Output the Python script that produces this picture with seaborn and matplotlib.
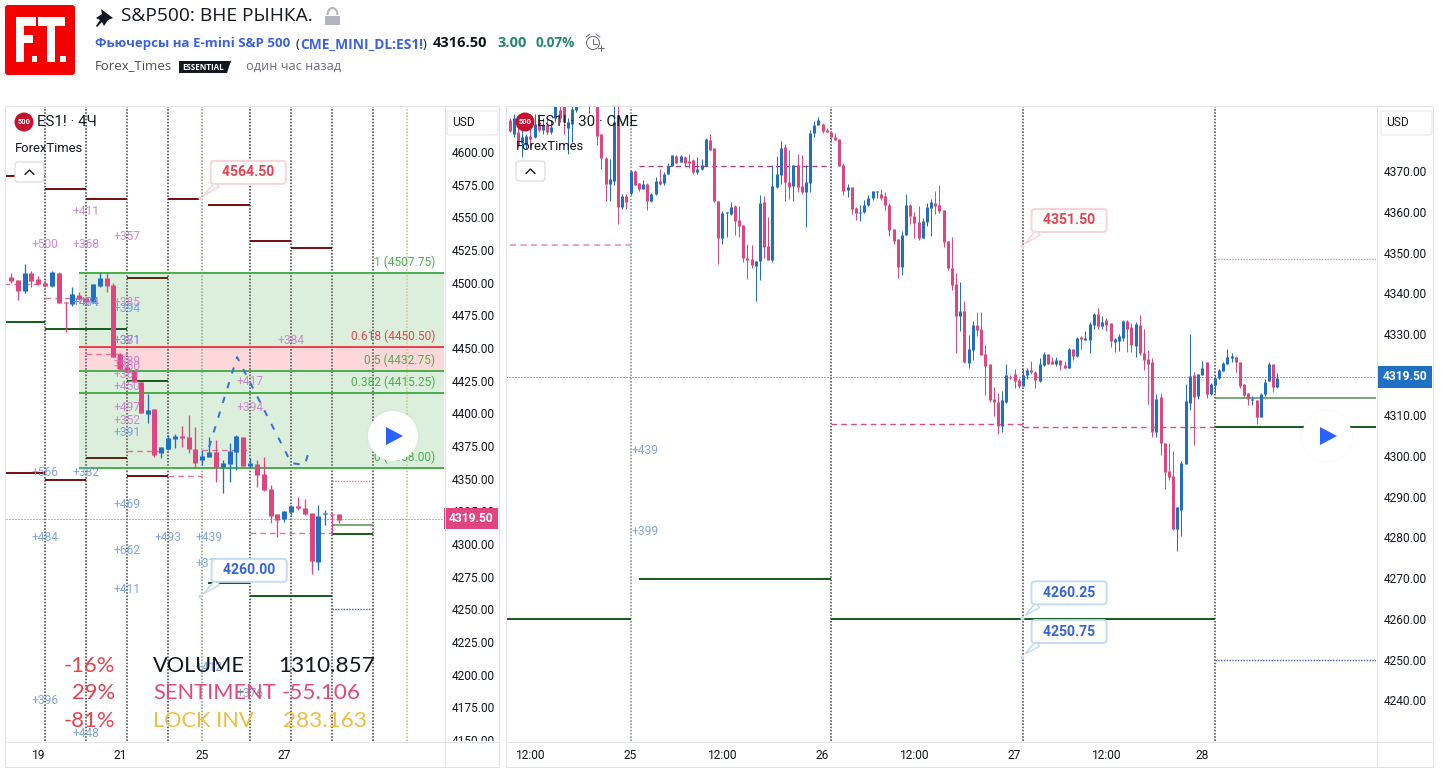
import numpy as np
import pandas as pd
import matplotlib
matplotlib.use("Agg")
import matplotlib.pyplot as plt
import seaborn as sns
from matplotlib.patches import Circle, FancyBboxPatch, Polygon, Rectangle, Arc
from matplotlib.transforms import Bbox

# --- left chart (4H candles): open, high, low, close
l_week1 = [
    (4504.1, 4507.1, 4499.5, 4501.5), (4502.0, 4502.2, 4486.7, 4493.6), (4493.6, 4514.3, 4492.4, 4507.1),
    (4507.1, 4509.2, 4496.4, 4501.5), (4502.8, 4505.1, 4498.2, 4498.7), (4500.0, 4502.0, 4497.0, 4497.7),
    (4497.7, 4509.0, 4497.0, 4507.9), (4507.1, 4508.4, 4484.7, 4484.7), (4485.5, 4485.5, 4462.5, 4484.2),
    (4483.7, 4496.4, 4482.4, 4491.3), (4490.6, 4493.1, 4486.7, 4487.8), (4488.5, 4489.3, 4484.2, 4484.9),
    (4485.5, 4499.0, 4485.0, 4499.0), (4497.7, 4507.1, 4497.0, 4503.3), (4503.3, 4507.7, 4493.1, 4497.5),
    (4498.2, 4499.5, 4443.4, 4443.4), (4445.2, 4446.4, 4433.2, 4433.7), (4435.7, 4437.0, 4431.5, 4431.9),
    (4432.7, 4433.2, 4423.7, 4423.7), (4423.7, 4423.9, 4400.0, 4400.0), (4399.5, 4414.8, 4392.9, 4402.6),
    (4403.3, 4403.5, 4366.8, 4368.1), (4369.9, 4374.5, 4366.1, 4374.0), (4372.7, 4383.4, 4371.9, 4381.4),
    (4380.6, 4384.2, 4373.7, 4382.9), (4382.7, 4390.3, 4374.5, 4381.4), (4381.6, 4398.7, 4369.9, 4372.7),
    (4372.4, 4389.8, 4357.9, 4362.2),
]
l_week2 = [
    (4364.3, 4371.9, 4360.4, 4367.3), (4366.8, 4382.1, 4366.3, 4370.4), (4370.4, 4379.6, 4347.7, 4359.2),
    (4359.2, 4364.3, 4338.8, 4361.7), (4361.2, 4377.0, 4347.7, 4371.1), (4370.6, 4383.4, 4356.6, 4382.6),
    (4381.9, 4382.0, 4359.7, 4359.7), (4359.7, 4365.5, 4357.9, 4361.7), (4361.2, 4364.3, 4343.8, 4352.8),
    (4353.5, 4366.3, 4340.8, 4341.3), (4342.1, 4345.1, 4315.8, 4321.4), (4322.9, 4323.0, 4305.6, 4318.3),
    (4319.1, 4325.5, 4317.1, 4325.0), (4324.5, 4329.8, 4322.2, 4329.1), (4329.1, 4336.2, 4326.0, 4327.8),
    (4327.8, 4334.2, 4322.2, 4322.9), (4323.9, 4324.0, 4277.0, 4287.2), (4286.4, 4329.8, 4280.1, 4321.4),
    (4322.7, 4326.0, 4314.5, 4323.9), (4322.9, 4323.0, 4307.6, 4322.2), (4322.9, 4323.0, 4316.3, 4318.3),
]

# --- right chart (30 min candles), split by session
r_day24 = [
    (4382.5, 4383.0, 4379.7, 4379.8), (4379.0, 4384.0, 4378.5, 4383.0), (4379.7, 4381.0, 4376.0, 4376.4),
    (4377.0, 4380.0, 4373.5, 4378.4), (4376.4, 4379.0, 4375.5, 4378.6), (4378.6, 4381.3, 4375.5, 4378.0),
    (4378.4, 4384.0, 4378.2, 4381.7), (4382.0, 4384.0, 4379.5, 4380.0), (4380.0, 4383.0, 4379.2, 4381.3),
    (4381.3, 4383.0, 4379.2, 4379.6), (4379.5, 4382.5, 4379.2, 4380.9), (4383.0, 4388.0, 4382.0, 4386.0),
    (4385.0, 4387.0, 4382.0, 4383.0), (4386.0, 4388.0, 4379.2, 4382.0), (4380.5, 4383.0, 4374.3, 4382.0),
    (4381.7, 4387.0, 4377.2, 4385.2), (4385.0, 4389.0, 4384.5, 4386.0), (4390.0, 4391.0, 4386.7, 4387.0),
    (4388.0, 4392.0, 4387.0, 4391.0), (4388.0, 4393.0, 4384.2, 4392.0), (4392.0, 4393.0, 4388.0, 4390.0),
    (4389.0, 4391.0, 4376.4, 4378.7), (4379.0, 4379.2, 4370.6, 4373.3), (4373.3, 4373.5, 4362.6, 4366.9),
    (4366.9, 4373.1, 4362.6, 4368.0), (4367.5, 4386.0, 4366.5, 4382.0), (4383.5, 4386.0, 4357.1, 4361.2),
    (4361.2, 4364.5, 4360.8, 4363.9), (4363.9, 4364.5, 4360.8, 4362.4),
]
r_day25 = [
    (4364.6, 4370.2, 4364.1, 4370.0), (4370.0, 4370.2, 4366.5, 4366.7), (4367.1, 4367.2, 4365.1, 4365.6),
    (4365.7, 4367.8, 4365.6, 4366.8), (4366.8, 4367.0, 4360.4, 4362.7), (4362.6, 4364.7, 4362.5, 4364.3),
    (4364.3, 4368.6, 4364.1, 4367.5), (4367.5, 4370.6, 4366.7, 4366.9), (4367.0, 4369.8, 4366.5, 4369.2),
    (4369.2, 4371.9, 4369.2, 4371.3), (4371.3, 4374.0, 4371.2, 4373.9), (4373.7, 4374.0, 4372.0, 4372.1),
    (4372.3, 4373.9, 4372.2, 4373.7), (4373.4, 4373.6, 4370.9, 4372.1), (4372.4, 4374.3, 4370.8, 4372.1),
    (4372.7, 4372.9, 4369.4, 4369.7), (4369.7, 4373.5, 4369.4, 4370.6), (4370.5, 4373.1, 4370.2, 4371.5),
    (4371.3, 4378.2, 4371.2, 4378.0), (4377.6, 4379.2, 4375.2, 4375.3), (4375.7, 4375.8, 4362.4, 4362.6),
    (4362.6, 4362.7, 4347.3, 4353.6), (4353.6, 4360.2, 4352.1, 4359.7), (4359.6, 4360.0, 4353.9, 4359.9),
    (4359.4, 4362.3, 4359.2, 4361.2), (4361.5, 4361.6, 4354.4, 4357.8), (4357.9, 4361.4, 4353.8, 4356.6),
    (4356.7, 4356.8, 4347.7, 4348.7), (4348.7, 4352.0, 4343.4, 4348.1), (4348.4, 4351.8, 4346.3, 4346.9),
    (4346.7, 4348.0, 4338.2, 4347.9), (4347.9, 4364.1, 4343.2, 4362.2), (4362.4, 4363.9, 4348.6, 4351.4),
    (4351.6, 4358.8, 4348.1, 4348.1), (4348.1, 4371.5, 4347.7, 4366.3), (4366.2, 4373.7, 4365.8, 4369.3),
    (4369.0, 4377.4, 4366.8, 4375.7), (4376.0, 4376.6, 4362.7, 4367.4), (4367.3, 4375.2, 4363.1, 4366.2),
    (4366.3, 4371.5, 4362.7, 4371.4), (4371.4, 4374.2, 4364.9, 4366.2), (4366.3, 4373.9, 4364.4, 4364.9),
    (4364.9, 4371.5, 4356.3, 4367.3), (4367.1, 4380.1, 4364.9, 4379.4), (4379.3, 4382.3, 4378.4, 4381.3),
    (4381.3, 4383.2, 4381.3, 4382.5), (4381.7, 4381.8, 4379.4, 4379.9), (4380.1, 4380.5, 4379.6, 4379.7),
]
r_day26 = [
    (4379.6, 4379.7, 4377.2, 4378.4), (4378.3, 4379.3, 4377.6, 4377.6), (4377.9, 4378.0, 4371.3, 4371.3),
    (4371.5, 4372.1, 4364.1, 4365.2), (4365.3, 4366.8, 4363.7, 4366.0), (4366.1, 4366.2, 4359.4, 4360.8),
    (4361.0, 4361.1, 4358.0, 4359.8), (4359.8, 4361.8, 4357.8, 4360.0), (4360.0, 4362.9, 4359.8, 4361.8),
    (4361.7, 4364.1, 4361.4, 4363.5), (4363.5, 4365.2, 4362.9, 4365.1), (4364.8, 4365.2, 4363.5, 4365.0),
    (4364.5, 4365.5, 4363.0, 4363.5), (4363.9, 4364.9, 4360.4, 4361.7), (4361.7, 4362.2, 4354.0, 4355.5),
    (4355.8, 4355.9, 4352.1, 4352.9), (4353.3, 4353.4, 4343.8, 4346.5), (4346.5, 4355.3, 4344.5, 4354.3),
    (4354.3, 4364.4, 4354.3, 4361.8), (4361.7, 4361.9, 4357.0, 4359.0), (4359.0, 4360.0, 4353.6, 4357.3),
    (4357.6, 4361.4, 4353.1, 4353.5), (4353.6, 4358.6, 4353.6, 4357.7), (4357.6, 4362.1, 4356.5, 4361.1),
    (4361.0, 4363.1, 4354.0, 4362.4), (4362.2, 4365.1, 4359.4, 4361.5), (4361.7, 4366.6, 4359.8, 4360.2),
    (4360.4, 4360.5, 4351.4, 4352.6), (4352.8, 4352.9, 4345.7, 4346.3), (4346.3, 4353.7, 4340.8, 4342.0),
    (4342.2, 4344.9, 4325.2, 4334.4), (4334.4, 4342.7, 4330.8, 4335.6), (4335.6, 4338.1, 4322.8, 4323.2),
    (4322.9, 4329.7, 4321.7, 4326.3), (4326.0, 4333.2, 4323.7, 4332.2), (4332.2, 4335.5, 4329.5, 4331.0),
    (4331.2, 4335.5, 4324.8, 4324.8), (4325.0, 4327.3, 4315.0, 4322.2), (4322.6, 4322.6, 4313.3, 4313.7),
    (4314.0, 4316.9, 4309.8, 4313.2), (4313.3, 4315.4, 4305.4, 4307.4), (4307.4, 4316.0, 4306.0, 4313.7),
    (4313.3, 4322.6, 4313.1, 4319.9), (4319.5, 4319.8, 4319.0, 4319.2), (4320.1, 4321.3, 4316.6, 4318.4),
    (4318.6, 4319.3, 4316.6, 4317.2), (4317.3, 4321.3, 4317.2, 4319.9), (4319.8, 4321.7, 4318.9, 4321.1),
]
r_day27 = [
    (4321.1, 4323.3, 4320.1, 4320.6), (4320.7, 4321.0, 4316.8, 4318.6), (4318.5, 4324.0, 4318.2, 4322.7),
    (4322.3, 4325.6, 4322.2, 4325.0), (4325.0, 4325.1, 4322.6, 4322.7), (4323.3, 4324.4, 4322.6, 4322.7),
    (4322.7, 4324.4, 4322.2, 4323.6), (4323.6, 4323.7, 4321.1, 4322.3), (4322.3, 4323.3, 4321.6, 4321.6),
    (4321.6, 4326.6, 4321.6, 4326.3), (4326.2, 4326.3, 4323.6, 4324.5), (4324.5, 4329.3, 4324.4, 4329.0),
    (4329.2, 4329.5, 4326.4, 4328.8), (4328.5, 4330.7, 4328.5, 4328.9), (4328.5, 4333.0, 4325.4, 4332.5),
    (4332.2, 4335.2, 4331.3, 4334.9), (4334.9, 4336.3, 4331.3, 4331.9), (4331.9, 4334.4, 4331.3, 4333.0),
    (4333.4, 4333.8, 4330.8, 4332.2), (4332.7, 4332.8, 4326.7, 4328.3), (4328.1, 4329.0, 4325.6, 4328.8),
    (4328.3, 4329.9, 4325.9, 4329.5), (4329.0, 4333.4, 4328.3, 4333.2), (4333.2, 4333.4, 4325.6, 4331.2),
    (4331.6, 4332.6, 4325.6, 4327.2), (4327.1, 4333.0, 4324.4, 4332.4), (4332.2, 4334.6, 4324.8, 4325.2),
    (4325.4, 4331.3, 4321.1, 4323.6), (4323.8, 4326.0, 4312.9, 4322.7), (4323.1, 4324.2, 4304.6, 4305.8),
    (4305.8, 4315.2, 4304.6, 4314.1), (4314.5, 4315.6, 4300.2, 4303.1), (4303.2, 4303.2, 4292.0, 4296.0),
    (4296.3, 4303.2, 4294.1, 4294.9), (4295.1, 4301.2, 4281.8, 4282.0), (4282.0, 4287.5, 4276.7, 4287.4),
    (4286.7, 4298.7, 4280.3, 4298.3), (4298.0, 4317.8, 4298.0, 4313.5), (4313.1, 4330.0, 4311.3, 4319.6),
    (4319.9, 4320.7, 4302.7, 4314.5), (4314.7, 4320.1, 4313.9, 4320.1), (4319.9, 4323.3, 4319.9, 4321.6),
    (4323.1, 4323.2, 4314.3, 4315.2), (4315.2, 4318.0, 4315.1, 4317.8),
]
r_day28 = [
    (4317.4, 4319.9, 4315.4, 4319.3), (4319.1, 4321.5, 4318.9, 4321.1), (4321.0, 4323.2, 4320.9, 4322.9),
    (4322.6, 4326.2, 4322.6, 4324.4), (4324.1, 4325.4, 4323.1, 4324.5), (4324.4, 4324.5, 4320.6, 4323.1),
    (4323.1, 4323.2, 4316.6, 4317.2), (4317.7, 4317.8, 4314.4, 4315.1), (4315.5, 4315.6, 4312.5, 4314.0),
    (4313.8, 4314.8, 4312.5, 4314.1), (4313.7, 4313.8, 4307.8, 4309.6), (4309.6, 4315.4, 4309.5, 4315.2),
    (4315.2, 4319.0, 4314.7, 4318.2), (4318.5, 4323.1, 4318.5, 4322.6), (4322.6, 4322.6, 4315.8, 4317.0),
    (4317.0, 4320.3, 4316.8, 4319.3),
]

# axis ticks
l_price_ticks = list(range(4150, 4625, 25))
r_price_ticks = list(range(4240, 4380, 10))
l_date_bars = [4, 16, 28, 40]
l_date_labels = ["19", "21", "25", "27"]
r_date_bars = [5, 29, 51, 75, 97, 121, 143, 166]
r_date_labels = ["12:00", "25", "12:00", "26", "12:00", "27", "12:00", "28"]
l_session_bars = [5, 11, 17, 23, 35, 41, 47, 53]
l_marker_bars = [28, 58]
r_session_bars = [29, 77, 123, 169]

l_last_price = 4319.5
r_last_price = 4319.5

# fibonacci retracement on the left chart
fib_start_bar = 10
fib_prices = [4507.75, 4450.5, 4432.75, 4415.25, 4358.0]
fib_names = ["1 (4507.75)", "0.618 (4450.50)", "0.5 (4432.75)", "0.382 (4415.25)", "0 (4358.00)"]

# levels: start bar, end bar, price
l_dark_red = [(-1, 5, 4581.6), (5, 11, 4571.7), (11, 17, 4563.8), (23, 27.7, 4563.8), (28.8, 35, 4559.7),
              (35, 41, 4531.9), (41, 47, 4526.5), (-1, 5, 4354.3), (5, 11, 4349.0), (17, 23, 4352.0)]
l_brown = [(17, 23, 4503.8), (11, 17, 4366.0)]
l_dark_green = [(-1, 5, 4469.9), (5, 17, 4464.8), (17, 23, 4425.0), (28.8, 35, 4270.2), (35, 47, 4260.2),
                (47, 53, 4307.7)]
l_light_green = [(47, 53, 4314.6)]
l_dashed_pink = [(-1, 5, 4499.0), (5, 11, 4488.3), (11, 17, 4445.4), (17, 23, 4371.2), (23, 28, 4352.0),
                 (28, 35, 4372.0), (35, 47, 4308.4)]
l_dotted_pink = [(47, 53, 4348.5)]
l_dotted_blue = [(47, 53, 4250.3)]

r_dark_green = [(-1, 29, 4260.0), (31, 77, 4269.75), (77, 169, 4260.0), (169, 208, 4307.25)]
r_mid_green = [(169, 208, 4314.3)]
r_dashed_pale = [(0, 29, 4351.8)]
r_dashed_dark = [(31, 77, 4371.35)]
r_dashed_pink = [(77, 123, 4308.0), (123, 169, 4307.25)]
r_dotted_pink = [(169, 208, 4348.5)]
r_dotted_blue = [(169, 208, 4249.9)]

# projected path on the left chart
path_bars = [29, 33.1, 40.3, 41, 43, 43.6]
path_prices = [4374.2, 4443.1, 4369.6, 4362.0, 4360.5, 4370.4]

# small volume labels on the left chart
note_purple = [("+411", 11, 4554.8), ("+500", 5, 4529.6), ("+368", 11, 4529.6), ("+357", 17, 4535.0),
               ("+474", 11, 4485.2), ("+385", 17, 4485.2), ("+381", 17, 4455.4), ("+389", 17, 4440.0),
               ("+360", 17, 4436.2), ("+361", 17, 4430.1), ("+450", 17, 4420.2), ("+497", 17, 4404.8),
               ("+352", 17, 4394.9), ("+417", 35, 4424.7), ("+394", 35, 4404.8), ("+384", 41, 4455.4)]
note_blue = [("+404", 11, 4485.2), ("+394", 17, 4479.9), ("+371", 17, 4455.4), ("+391", 17, 4385.0),
             ("+566", 5, 4355.1), ("+382", 11, 4355.1), ("+469", 17, 4329.9), ("+484", 5, 4305.4),
             ("+662", 17, 4295.4), ("+493", 23, 4305.4), ("+439", 29, 4305.4), ("+312", 29, 4285.5),
             ("+411", 17, 4265.6), ("+412", 29, 4205.9), ("+376", 35, 4186.0), ("+396", 5, 4180.6),
             ("+448", 11, 4155.4)]
r_note_blue = [("+439", 32.5, 4301.4), ("+399", 32.5, 4281.5)]

# stats in the lower left corner
stat_pct = ["-16%", "29%", "-81%"]
stat_names = ["VOLUME", "SENTIMENT", "LOCK INV"]
stat_values = ["1310.857", "-55.106", "283.163"]

BLUE = "#1f6fc4"
PINK = "#e0457f"
CALL_RED = "#e8424f"
CALL_BLUE = "#3563d9"
W, H = 1441, 775
PT = 0.72  # points per pixel at dpi 100

sns.set_theme(style="white")
plt.rcParams["font.family"] = ["Roboto", "DejaVu Sans"]


def px_axes(fig, x0, y0, x1, y1):
    return fig.add_axes([x0 / W, 1 - y1 / H, (x1 - x0) / W, (y1 - y0) / H])


def draw_candles(ax, candles, body_px, wick_px):
    df = pd.DataFrame(candles, columns=["open", "high", "low", "close"])
    df["bar"] = np.arange(len(df))
    df["side"] = np.where(df["close"] >= df["open"], "up", "down")
    colors = {"up": BLUE, "down": PINK}
    wicks = df.melt(id_vars=["bar", "side"], value_vars=["high", "low"], value_name="price")
    bodies = df.melt(id_vars=["bar", "side"], value_vars=["open", "close"], value_name="price")
    sns.lineplot(data=wicks, x="bar", y="price", hue="side", units="bar", estimator=None, palette=colors,
                 linewidth=wick_px * PT, solid_capstyle="butt", legend=False, ax=ax, zorder=3)
    sns.lineplot(data=bodies, x="bar", y="price", hue="side", units="bar", estimator=None, palette=colors,
                 linewidth=body_px * PT, solid_capstyle="butt", legend=False, ax=ax, zorder=3)


def draw_levels(ax, levels, color, lw_px, style="-"):
    for start, end, price in levels:
        ax.hlines(price, start, end, colors=color, linewidth=lw_px * PT, linestyles=style, zorder=2)


def draw_sessions(ax, bars, color, lw_px=2):
    ax.vlines(bars, 0, 1, transform=ax.get_xaxis_transform(), colors=color, linewidth=lw_px * PT,
              linestyles=(0, (0.8, 0.8)), zorder=1.5)


def draw_notes(ax, notes, color):
    for text, bar, price in notes:
        ax.text(bar, price, text, color=color, fontsize=12 * PT, ha="center", va="center", alpha=0.85, zorder=4)


def callout(ax, text, bar, price, dx, dy, color, edge):
    ax.plot([bar], [price], "o", ms=4 * PT, color=edge, mew=0, zorder=5)
    # no-break spaces widen the box without making it taller
    ax.annotate(f"\u00a0\u00a0{text}\u00a0\u00a0", xy=(bar, price), xytext=(dx, dy), textcoords="offset pixels",
                ha="center", va="center", color=color, fontsize=14 * PT, fontweight="bold", zorder=6,
                bbox=dict(boxstyle="round,pad=0.32,rounding_size=0.25", fc="white", ec=edge, lw=2 * PT),
                arrowprops=dict(arrowstyle="wedge,tail_width=0.45,shrink_factor=0.5", fc="white", ec=edge,
                                lw=1.5 * PT, shrinkA=0, shrinkB=3, relpos=(0.12, 0.0)))


def price_tag(ax, price, color, dx):
    ax.annotate(f"{price:.2f}", xy=(1.0, price), xycoords=ax.get_yaxis_transform(), xytext=(dx, 0),
                textcoords="offset pixels", ha="center", va="center", color="white", fontsize=12 * PT,
                fontweight="bold", zorder=8, annotation_clip=False,
                bbox=dict(boxstyle="square,pad=0.36", fc=color, ec=color, lw=0))


def finish_axes(ax, xlim, ylim, price_ticks, date_bars, date_labels, clip_x):
    ax.set_xlim(*xlim)
    ax.set_ylim(*ylim)
    ax.set_xlabel("")
    ax.set_ylabel("")
    ax.yaxis.tick_right()
    ax.set_yticks(price_ticks, [f"{t:.2f}" for t in price_ticks])
    ax.set_xticks(date_bars, date_labels)
    ax.tick_params(axis="y", length=0, pad=8 * PT, labelsize=12 * PT, labelcolor="#131722")
    ax.tick_params(axis="x", length=0, pad=8 * PT, labelsize=12 * PT, labelcolor="#131722")
    # price labels get cut at the bottom of the chart area
    box = Bbox([[clip_x, H - 741], [clip_x + 60, H - 106]])
    for lab in ax.get_yticklabels():
        lab.set_clip_box(box)
        lab.set_clip_on(True)
    for side in ax.spines.values():
        side.set_visible(False)


fig = plt.figure(figsize=(W / 100, H / 100), dpi=100, facecolor="white")

# ---------- left chart ----------
ax_l = px_axes(fig, 6, 106, 444, 741)
l_xlim = (-0.73, 63.4)
l_ylim = (4149.3, 4635.2)

# fib zones
ax_l.fill_between([fib_start_bar, l_xlim[1]], fib_prices[4], fib_prices[0], color="#dcefdc", lw=0, zorder=1)
ax_l.fill_between([fib_start_bar, l_xlim[1]], fib_prices[2], fib_prices[1], color="#fdd7da", lw=0, zorder=1.1)
for price, name in zip(fib_prices, fib_names):
    col = "#e0474c" if name.startswith("0.618") else "#4caf50"
    ax_l.hlines(price, fib_start_bar, l_xlim[1], colors=col, linewidth=2 * PT, zorder=2)
    ax_l.annotate(name, xy=(62.1, price), xytext=(0, 4), textcoords="offset pixels", ha="right", va="bottom",
                  color=col, fontsize=12 * PT, zorder=4)

draw_sessions(ax_l, l_session_bars, "#707070")
draw_sessions(ax_l, l_marker_bars[:1], "#9dbb9d")
draw_sessions(ax_l, l_marker_bars[1:], "#cfd0a0")

draw_levels(ax_l, l_dark_red, "#7b1113", 2)
draw_levels(ax_l, l_brown, "#5a2a1c", 2)
draw_levels(ax_l, l_dark_green, "#1b5e20", 2)
draw_levels(ax_l, l_light_green, "#4f8f4f", 1.5)
draw_levels(ax_l, l_dashed_pink, "#e0709a", 1.4, (0, (4, 3)))
draw_levels(ax_l, l_dotted_pink, "#e070b0", 1.4, (0, (1, 1)))
draw_levels(ax_l, l_dotted_blue, "#3d5ad0", 1.4, (0, (1, 1)))

ax_l.axhline(l_last_price, color="#c04a90", lw=1 * PT, ls=(0, (1, 2)), zorder=2)
draw_candles(ax_l, l_week1 + l_week2, 5, 1.3)
sns.lineplot(x=path_bars, y=path_prices, color="#3a70d8", linewidth=2 * PT, linestyle=(0, (3.2, 4.5)), sort=False,
             estimator=None, ax=ax_l, zorder=4)
draw_notes(ax_l, note_purple, "#c875cf")
draw_notes(ax_l, note_blue, "#6a96dc")
callout(ax_l, "4564.50", 27.7, 4564.5, 48, 26, CALL_RED, "#fbd4d8")
callout(ax_l, "4260.00", 27.7, 4260.0, 49, 26, CALL_BLUE, "#c5dcf5")
finish_axes(ax_l, l_xlim, l_ylim, l_price_ticks, l_date_bars, l_date_labels, 444)
price_tag(ax_l, l_last_price, PINK, 27)

# ---------- right chart ----------
ax_r = px_axes(fig, 506, 106, 1376, 741)
r_xlim = (-0.84, 207.6)
r_ylim = (4230.0, 4386.0)

draw_sessions(ax_r, r_session_bars[:1], "#9aa89a")
draw_sessions(ax_r, r_session_bars[1:], "#707070")
draw_levels(ax_r, r_dark_green, "#1b5e20", 2)
draw_levels(ax_r, r_mid_green, "#4f8f4f", 1.5)
draw_levels(ax_r, r_dashed_pale, "#e486b4", 1.5, (0, (4, 3)))
draw_levels(ax_r, r_dashed_dark, "#b03a78", 1.3, (0, (4, 3)))
draw_levels(ax_r, r_dashed_pink, "#db4b8b", 1.4, (0, (4, 3)))
draw_levels(ax_r, r_dotted_pink, "#e48ab0", 1.4, (0, (1, 1)))
draw_levels(ax_r, r_dotted_blue, "#5060d0", 1.4, (0, (1, 1)))
ax_r.axhline(r_last_price, color="#2a6a9c", lw=1 * PT, ls=(0, (1, 2)), zorder=2)
draw_candles(ax_r, r_day24 + r_day25 + r_day26 + r_day27 + r_day28, 3, 1)
draw_notes(ax_r, r_note_blue, "#6a96dc")
callout(ax_r, "4351.50", 122.8, 4351.5, 47, 26, CALL_RED, "#fbd4d8")
callout(ax_r, "4260.25", 122.8, 4260.25, 47, 25, CALL_BLUE, "#c5dcf5")
callout(ax_r, "4250.75", 122.8, 4250.75, 47, 25, CALL_BLUE, "#c5dcf5")
finish_axes(ax_r, r_xlim, r_ylim, r_price_ticks, r_date_bars, r_date_labels, 1376)
price_tag(ax_r, r_last_price, BLUE, 29)

# ---------- overlay in pixel units: header, frames, logos, buttons ----------
ov = fig.add_axes([0, 0, 1, 1], zorder=10)
ov.set_xlim(0, W)
ov.set_ylim(H, 0)
ov.axis("off")

FRAME = "#e3e4e8"
for x0, x1 in [(5, 499), (506, 1433)]:
    ov.add_patch(Rectangle((x0, 105.5), x1 - x0, 661.5, fill=False, ec=FRAME, lw=1 * PT))
    ov.plot([x0, x1], [741.5, 741.5], color=FRAME, lw=1 * PT)
ov.plot([444.5, 444.5], [105.5, 767], color=FRAME, lw=1 * PT)
ov.plot([1376.5, 1376.5], [105.5, 767], color=FRAME, lw=1 * PT)

# logo drawn from blocks
ov.add_patch(FancyBboxPatch((7, 7), 66, 66, boxstyle="round,pad=2,rounding_size=3", fc="#f50000", ec="none"))
for x, y, w, h in [(16, 17, 8, 45), (16, 17, 20, 9), (16, 35, 17, 8), (32, 56, 5, 6),
                   (38, 17, 27, 9), (47, 17, 8, 45), (60, 56, 6, 6)]:
    ov.add_patch(Rectangle((x, y), w, h, fc="white", ec="none"))

# header text
HEAD = ["Open Sans", "DejaVu Sans"]
ov.add_patch(Polygon([[101, 9], [113, 18], [108, 20], [104, 26], [102, 22], [97, 27], [96, 26], [100, 20], [96, 18],
                      [102, 14]], fc="#131722", ec="none"))
ov.text(121, 16, "S&P500: ВНЕ РЫНКА.", fontsize=19.2 * PT, color="#131722", va="center", family=HEAD)
ov.add_patch(Rectangle((325, 16), 15, 9, fc="#b2b5be", ec="none"))
ov.add_patch(Arc((332.5, 15), 10, 14, theta1=180, theta2=360, ec="#b2b5be", lw=1.5))

ov.text(95, 44, "Фьючерсы на E-mini S&P 500", fontsize=13.2 * PT, fontweight="bold", color="#3a62e0", va="center",
        family=HEAD)
ov.text(295, 44, "(", fontsize=13 * PT, color="#131722", va="center", family=HEAD)
ov.text(300, 44, "CME_MINI_DL:ES1!", fontsize=13.8 * PT, fontweight="bold", color="#3a62e0", va="center", family=HEAD)
ov.text(423, 44, ")", fontsize=13 * PT, color="#131722", va="center", family=HEAD)
ov.text(433, 43, "4316.50", fontsize=14.6 * PT, fontweight="bold", color="#131722", va="center", family=HEAD)
ov.text(498, 43, "3.00", fontsize=14.6 * PT, fontweight="bold", color="#26866f", va="center", family=HEAD)
ov.text(535, 43, "0.07%", fontsize=13.6 * PT, fontweight="bold", color="#26866f", va="center", family=HEAD)
ov.add_patch(Circle((593, 43), 6.5, fill=False, ec="#6a6d78", lw=1 * PT))
ov.plot([593, 593, 597], [39, 44, 44], color="#6a6d78", lw=1 * PT)
ov.plot([586, 590], [37, 34], color="#6a6d78", lw=1 * PT)
ov.plot([596, 600], [34, 37], color="#6a6d78", lw=1 * PT)
ov.plot([598, 604, np.nan, 601, 601], [48, 48, np.nan, 45, 51], color="#6a6d78", lw=1 * PT)

ov.text(95, 66, "Forex_Times", fontsize=13.3 * PT, color="#4a4d58", va="center", family=HEAD)
ov.add_patch(Polygon([[179, 61], [231, 61], [227, 73], [179, 73]], fc="#131722", ec="none"))
ov.text(203, 67, "ESSENTIAL", fontsize=8 * PT, fontweight="bold", color="white", va="center", ha="center",
        family=HEAD)
ov.text(246, 66, "один час назад", fontsize=12.8 * PT, color="#6a6d78", va="center", family=HEAD)

# chart titles
for cx, title_x, title, name_x, name_y, btn_x, btn_y in [
    (24, 37, "ES1! · 4Ч", 15, 148, 15, 162),
    (525, 537, "ES1! · 30 · CME", 516, 146, 516, 161),
]:
    ov.add_patch(Circle((cx, 122), 9.5, fc="#c4122f", ec="none"))
    ov.text(cx, 122.5, "500", color="white", fontsize=7.5 * PT, fontweight="bold", ha="center", va="center")
    ov.text(title_x, 122, title, color="#131722", fontsize=15 * PT, va="center")
    ov.text(name_x, name_y, "ForexTimes", color="#131722", fontsize=13 * PT, va="center")
    ov.add_patch(FancyBboxPatch((btn_x + 1, btn_y + 1), 27, 18, boxstyle="round,pad=1,rounding_size=3", fc="white",
                                ec="#d1d4dc", lw=1 * PT))
    ov.plot([btn_x + 10, btn_x + 14.5, btn_x + 19], [btn_y + 12.5, btn_y + 8, btn_y + 12.5], color="#131722", lw=1)

# currency boxes
for x0 in [447, 1381]:
    ov.add_patch(FancyBboxPatch((x0 + 1, 112), 49, 22, boxstyle="round,pad=1,rounding_size=2", fc="white", ec=FRAME,
                                lw=1 * PT))
    ov.text(x0 + 5, 123, "USD", color="#131722", fontsize=12 * PT, va="center")

# play buttons
for cx in [393, 1327]:
    ov.add_patch(Circle((cx, 436), 27, fc="#000000", ec="none", alpha=0.015))
    ov.add_patch(Circle((cx, 436), 25, fc="white", ec="none"))
    ov.add_patch(Polygon([[cx - 7, 427], [cx + 10, 436], [cx - 7, 445]], fc="#2962ff", ec="none"))

# stats block
STAT = ["Lato", "DejaVu Sans"]
for y, pct, name, col in zip([666, 693, 721], stat_pct, stat_names, ["#131722", "#e2487e", "#efbd44"]):
    ov.text(115, y, pct, color="#e8424f", fontsize=22 * PT, ha="right", va="center", family=STAT)
    ov.text(153, y, name, color=col, fontsize=21.8 * PT, ha="left", va="center", family=STAT)
for x, y, value, col in zip([278, 282, 283], [666, 693, 721], stat_values, ["#131722", "#e2487e", "#efbd44"]):
    ov.text(x, y, value, color=col, fontsize=22.5 * PT, ha="left", va="center", family=STAT)

fig.savefig("out.png", dpi=100)
